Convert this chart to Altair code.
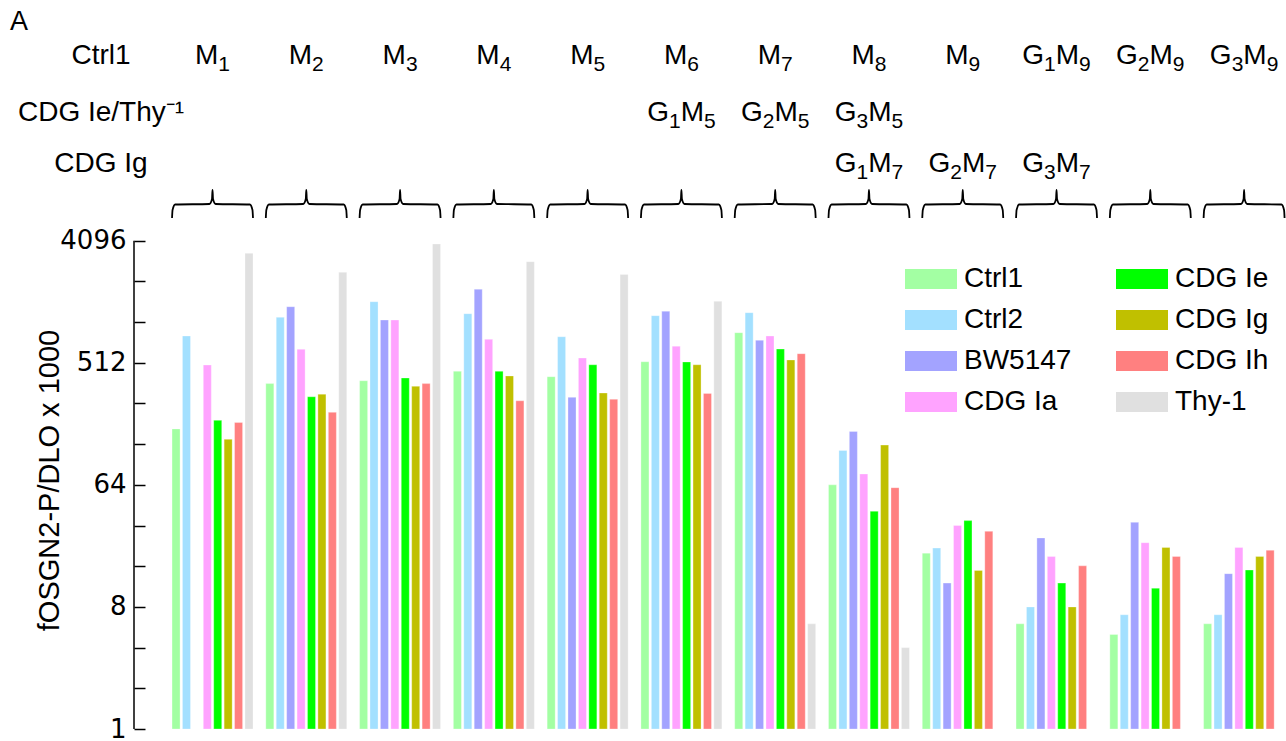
import altair as alt
import pandas as pd

# ---------------- data ----------------
series = ["Ctrl1", "Ctrl2", "BW5147", "CDG Ia", "CDG Ie", "CDG Ig", "CDG Ih", "Thy-1"]
series_colors = ["#a3ffa3", "#a3e0ff", "#a3a3ff", "#ffa3ff", "#00ff00", "#c0c000", "#ff8080", "#e0e0e0"]

groups = ["M1", "M2", "M3", "M4", "M5", "M6", "M7", "M8", "M9", "G1M9", "G2M9", "G3M9"]
row2_labels = ["", "", "", "", "", "G1M5", "G2M5", "G3M5", "", "", "", ""]
row3_labels = ["", "", "", "", "", "", "", "G1M7", "G2M7", "G3M7", "", ""]
row_titles = ["Ctrl1", "CDG Ie/Thy⁻¹", "CDG Ig"]

ctrl1 = [166, 359, 377, 443, 404, 521, 855, 64, 20.0, 6.0, 5.0, 6.0]
ctrl2 = [808, 1111, 1449, 1182, 798, 1142, 1202, 115, 21.8, 8.0, 7.0, 7.0]
bw5147 = [None, 1331, 1060, 1792, 284, 1232, 751, 159, 12.0, 25.9, 33.8, 14.1]
cdg_ia = [493, 644, 1060, 763, 555, 679, 808, 77, 32, 18.9, 23.9, 22]
cdg_ie = [192, 287, 395, 443, 495, 519, 647, 40.8, 34.8, 12.0, 11.0, 15.0]
cdg_ig = [139, 300, 343, 409, 306, 495, 537, 126, 14.9, 8.0, 22, 18.9]
cdg_ih = [185, 220, 359, 268, 275, 304, 598, 61, 29, 16.1, 18.9, 21]
thy1 = [3305, 2390, 3873, 2866, 2300, 1458, 6.0, 4.0, None, None, None, None]

series_values = [ctrl1, ctrl2, bw5147, cdg_ia, cdg_ie, cdg_ig, cdg_ih, thy1]
tick_values = [2 ** k for k in range(13)]
labelled_ticks = [1, 8, 64, 512, 4096]

# ---------------- layout ----------------
FONT = "Liberation Sans"
TICK_FONT = "DejaVu Sans"
FS = 28
SUB_FS = 21
SUB_DROP = 7
CHAR_EM = {"M": 0.833, "G": 0.778}   # Arial/Liberation advance widths
DIGIT_EM = 0.556
PAD_LEFT = 134
W = 1152
H = 729
UNIT = 10.42           # pixels per x unit
X0 = -3.65
XDOM = [X0, X0 + W / UNIT]
GROUP_STEP = 9
BAR_W = 0.77
SPAN = 7 + BAR_W
Y_TOP_PX = 240.7       # pixel of 4096
LOG_SPAN = 12 * H / (H - Y_TOP_PX)
YDOM = [1, 2 ** LOG_SPAN]

ROW_Y = [64, 121, 172]
TITLE_X = 101 - PAD_LEFT

# ---------------- tables ----------------
bar_rows = []
for g, gname in enumerate(groups):
    for j, s in enumerate(series):
        v = series_values[j][g]
        if v is None:
            continue
        x0 = g * GROUP_STEP + j
        bar_rows.append({"group": gname, "series": s, "value": v, "base": 1,
                         "x0": x0, "x1": x0 + BAR_W})
bars_df = pd.DataFrame(bar_rows)

# group labels: letters normal, digits as subscripts
main_rows, sub_rows = [], []
for g in range(len(groups)):
    xc = g * GROUP_STEP + SPAN / 2
    for r, labels in enumerate([groups, row2_labels, row3_labels]):
        lab = labels[g]
        if not lab:
            continue
        pieces = []
        for ch in lab:
            if ch.isdigit():
                pieces.append((ch, True, DIGIT_EM * SUB_FS))
            else:
                pieces.append((ch, False, CHAR_EM.get(ch, 0.7) * FS))
        total = sum(p[2] for p in pieces)
        off = -total / 2
        for ch, is_sub, wpx in pieces:
            row = {"x": xc + off / UNIT, "text": ch}
            if is_sub:
                row["y"] = ROW_Y[r] + SUB_DROP
                sub_rows.append(row)
            else:
                row["y"] = ROW_Y[r]
                main_rows.append(row)
            off += wpx
main_df = pd.DataFrame(main_rows)
sub_df = pd.DataFrame(sub_rows)

title_df = pd.DataFrame({"y": ROW_Y, "text": row_titles})

brace_shape = [(0, 218), (0.05, 210), (0.3, 204.5), (SPAN / 2 - 0.3, 204), (SPAN / 2 - 0.05, 199),
               (SPAN / 2, 190), (SPAN / 2 + 0.05, 199), (SPAN / 2 + 0.3, 204), (SPAN - 0.3, 204.5),
               (SPAN - 0.05, 210), (SPAN, 218)]
brace_rows = []
for g, gname in enumerate(groups):
    for k, (dx, y) in enumerate(brace_shape):
        brace_rows.append({"group": gname, "k": k, "x": g * GROUP_STEP + dx, "y": y})
brace_df = pd.DataFrame(brace_rows)

# ---------------- scales ----------------
xscale = alt.Scale(domain=XDOM, nice=False, zero=False)
yscale = alt.Scale(type="log", base=2, domain=YDOM, nice=False)
pxscale = alt.Scale(domain=[0, H], range=[0, H], nice=False, zero=False)

bars = alt.Chart(bars_df).mark_bar(stroke="white", strokeWidth=0.5, strokeOpacity=0.6).encode(
    x=alt.X("x0:Q", scale=xscale, axis=None),
    x2="x1:Q",
    y=alt.Y("value:Q", scale=yscale,
            axis=alt.Axis(values=tick_values,
                          labelExpr="indexof([1,8,64,512,4096], datum.value) >= 0 ? format(datum.value, 'd') : ''",
                          domain=False, grid=False, tickSize=11, offset=-11, tickColor="black",
                          tickWidth=1.5, labelPadding=8, labelFontSize=26, labelFont=TICK_FONT,
                          labelColor="black", title="fOSGN2-P/DLO x 1000", titleFont=FONT,
                          titleFontSize=29, titleFontWeight="normal", titleColor="black",
                          titleX=49 - PAD_LEFT - 11, titleY=480, titleAngle=-90,
                          titleAlign="center", titleBaseline="middle")),
    y2="base:Q",
    color=alt.Color("series:N", scale=alt.Scale(domain=series, range=series_colors),
                    legend=alt.Legend(title=None, orient="none", legendX=783, legendY=265,
                                      columns=2, symbolType="M-2,-0.77H2V0.77H-2Z",
                                      symbolSize=676, symbolStrokeWidth=0, symbolOpacity=1,
                                      labelFontSize=FS, labelFont=FONT, labelColor="black",
                                      labelOffset=19, rowPadding=13, columnPadding=44,
                                      labelLimit=300)),
)

axis_line = alt.Chart(pd.DataFrame({"lo": [1], "hi": [4096]})).mark_rule(
    color="black", strokeWidth=1.5).encode(
    x=alt.value(0),
    y=alt.Y("lo:Q", scale=yscale, axis=None),
    y2="hi:Q",
)

hdr_main = alt.Chart(main_df).mark_text(font=FONT, fontSize=FS, baseline="alphabetic",
                                        align="left", color="black").encode(
    x=alt.X("x:Q", scale=xscale, axis=None),
    y=alt.Y("y:Q", scale=pxscale, axis=None),
    text="text:N",
)

hdr_sub = alt.Chart(sub_df).mark_text(font=FONT, fontSize=SUB_FS, baseline="alphabetic",
                                      align="left", color="black").encode(
    x=alt.X("x:Q", scale=xscale, axis=None),
    y=alt.Y("y:Q", scale=pxscale, axis=None),
    text="text:N",
)

titles = alt.Chart(title_df).mark_text(font=FONT, fontSize=FS, baseline="alphabetic",
                                       align="center", color="black").encode(
    x=alt.value(TITLE_X),
    y=alt.Y("y:Q", scale=pxscale, axis=None),
    text="text:N",
)

panel_letter = alt.Chart(pd.DataFrame({"y": [30], "text": ["A"]})).mark_text(
    font=FONT, fontSize=27, baseline="alphabetic", align="left", color="black").encode(
    x=alt.value(10 - PAD_LEFT),
    y=alt.Y("y:Q", scale=pxscale, axis=None),
    text="text:N",
)

braces = alt.Chart(brace_df).mark_line(color="black", strokeWidth=1.8, interpolate="monotone").encode(
    x=alt.X("x:Q", scale=xscale, axis=None),
    y=alt.Y("y:Q", scale=pxscale, axis=None),
    detail="group:N",
    order="k:Q",
)

chart = alt.layer(bars, axis_line, hdr_main, hdr_sub, titles, panel_letter, braces).resolve_scale(
    y="independent"
).properties(
    width=W, height=H,
    background="white",
    autosize=alt.AutoSizeParams(type="none"),
    padding={"left": PAD_LEFT, "top": 0, "right": 0, "bottom": 12},
).configure_view(strokeWidth=0, stroke="transparent")

chart.save("out.html", embed_options={"renderer": "svg", "actions": False})
